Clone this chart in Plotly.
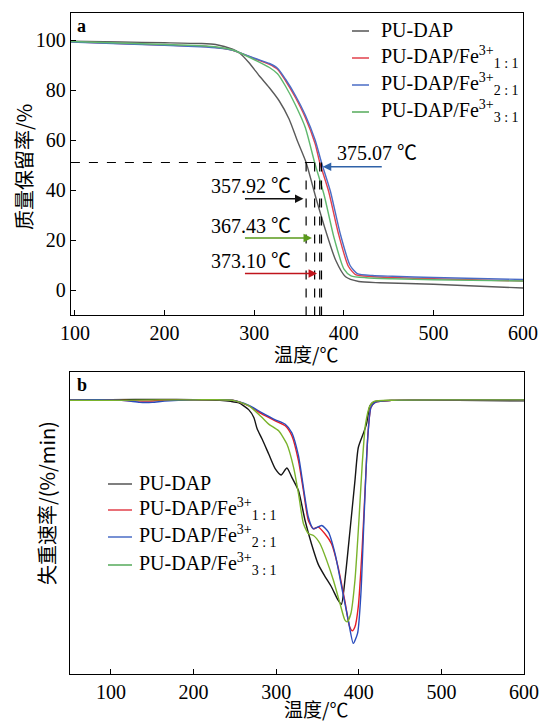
import plotly.graph_objects as go

# ---------------- data ----------------
series_names = [
    "PU-DAP",
    "PU-DAP/Fe<sup>3+</sup><sub>1 : 1</sub>",
    "PU-DAP/Fe<sup>3+</sup><sub>2 : 1</sub>",
    "PU-DAP/Fe<sup>3+</sup><sub>3 : 1</sub>",
]

# (a) TG: mass retention (%)
tg_temp_black = [95, 150, 200, 240, 257, 276, 283, 294, 305.6, 316.7, 327.8, 338.9, 348, 357.92, 368.5, 379.6, 390.8, 401.9, 416.7, 440, 500, 600]
tg_black = [99.5, 99.2, 98.9, 98.6, 98.2, 96.3, 95, 91, 85.7, 81, 75.7, 68.4, 59.8, 51, 37.3, 23.9, 12, 5.3, 3.4, 2.9, 2.3, 0.8]

tg_temp_red = [95, 150, 200, 240, 260, 276, 283, 302, 317, 326, 335, 346, 357, 368, 373.1, 383, 394, 405, 413, 430, 454, 500, 600]
tg_red = [99.3, 98.6, 98.0, 97.5, 96.9, 95.9, 95, 92.3, 90.3, 88.3, 83.7, 77, 69, 58.5, 51, 39.5, 22.5, 9.5, 6.2, 5.4, 5.0, 4.5, 3.6]

tg_temp_blue = [95, 150, 200, 240, 260, 276, 283, 302, 317, 326, 335, 346, 357, 368, 375.07, 385, 396, 407, 415, 432, 454, 500, 600]
tg_blue = [99.2, 98.5, 97.9, 97.3, 96.8, 95.9, 95, 92.5, 90.6, 88.7, 84.3, 77.8, 70, 60, 51, 39.5, 22.5, 9.8, 6.6, 5.8, 5.5, 5.0, 4.2]

tg_temp_green = [95, 150, 200, 240, 260, 276, 283, 302, 317, 326, 335, 346, 357, 367.43, 378, 389, 400, 408, 425, 454, 500, 600]
tg_green = [99.4, 98.8, 98.2, 97.7, 97.1, 96.0, 95, 91.8, 89, 86.5, 81.5, 74, 65, 51, 38, 21, 8.5, 5.7, 4.9, 4.5, 4.1, 3.6]

# 50 % loss temperatures
half_level = 51
half_temps = [357.92, 367.43, 373.10, 375.07]
half_labels = ["357.92 ℃", "367.43 ℃", "373.10 ℃", "375.07 ℃"]

# (b) DTG: mass-loss rate (%/min, relative)
dtg_temp_black = [50, 100, 160, 200, 232, 245, 255, 267, 273, 277, 283, 291, 299, 306, 313, 319, 327, 335, 343, 351, 359, 367, 375, 379, 384, 389.4, 395.4, 399.4, 405.4, 409.4, 413.5, 418, 440, 520, 600]
dtg_black = [0, 0.003, 0.005, 0.002, -0.005, -0.015, -0.03, -0.1, -0.177, -0.29, -0.393, -0.543, -0.693, -0.753, -0.683, -0.777, -0.91, -1.21, -1.45, -1.65, -1.77, -1.877, -2.01, -2.05, -1.75, -1.31, -0.81, -0.48, -0.34, -0.24, -0.06, -0.02, -0.005, -0.003, -0.01]

dtg_temp_red = [50, 100, 130, 145, 160, 200, 247, 267, 283, 299, 311, 319, 327, 333, 339, 345, 351, 359, 367, 375, 383, 389, 392.2, 395.4, 399.4, 404.2, 408.2, 411.4, 414.7, 419.5, 440, 520, 600]
dtg_red = [0, 0, -0.01, -0.012, -0.005, 0, -0.003, -0.06, -0.143, -0.21, -0.26, -0.36, -0.61, -0.91, -1.21, -1.293, -1.277, -1.343, -1.443, -1.677, -2.01, -2.277, -2.317, -2.277, -2.077, -1.477, -0.81, -0.31, -0.077, -0.027, -0.005, 0, 0]

dtg_temp_blue = [50, 100, 120, 135, 150, 165, 200, 247, 267, 283, 299, 311, 319, 327, 333, 339, 345, 355.2, 363.3, 371.3, 379.3, 387.3, 393.4, 398.6, 402.6, 406.6, 410.6, 414.7, 419.5, 440, 520, 600]
dtg_blue = [0, 0, -0.01, -0.025, -0.025, -0.012, 0, -0.003, -0.055, -0.13, -0.2, -0.245, -0.33, -0.56, -0.877, -1.177, -1.293, -1.26, -1.327, -1.543, -1.877, -2.21, -2.443, -2.34, -1.943, -1.143, -0.41, -0.077, -0.027, -0.005, 0, 0]

dtg_temp_green = [50, 100, 160, 200, 247, 267, 283, 291, 303, 313, 321.1, 327.1, 333.1, 339.2, 345.2, 353.2, 361.2, 369.3, 377.3, 383.3, 386.1, 390.5, 395.4, 400.2, 404.2, 408.2, 413.5, 418, 440, 520, 600]
dtg_green = [-0.005, -0.005, 0, 0, -0.003, -0.06, -0.177, -0.243, -0.31, -0.443, -0.677, -0.943, -1.243, -1.343, -1.36, -1.443, -1.61, -1.81, -2.043, -2.21, -2.227, -2.143, -1.81, -1.21, -0.643, -0.243, -0.06, -0.017, -0.003, 0, 0]

x_ticks = [100, 200, 300, 400, 500, 600]
tg_y_ticks = [0, 20, 40, 60, 80, 100]

# ---------------- style ----------------
SERIF = "Liberation Serif, Noto Sans CJK SC, serif"
CJK = "Noto Sans CJK SC, Liberation Serif, serif"
tg_colors = ["#5a5a5a", "#e2404b", "#4a6cc6", "#5fb86e"]
dtg_colors = ["#151515", "#e81c24", "#2a4cbc", "#7ab32c"]
legend_colors = ["#555555", "#e2404b", "#4a6cc6", "#55aa5a"]
arrow_colors = ["#111111", "#5a9a1c", "#c0141c", "#2f62a8"]

tg_x = [tg_temp_black, tg_temp_red, tg_temp_blue, tg_temp_green]
tg_y = [tg_black, tg_red, tg_blue, tg_green]
dtg_x = [dtg_temp_black, dtg_temp_red, dtg_temp_blue, dtg_temp_green]
dtg_y = [dtg_black, dtg_red, dtg_blue, dtg_green]

fig = go.Figure()
for i in range(4):
    fig.add_trace(go.Scatter(x=tg_x[i], y=tg_y[i], mode="lines", name=series_names[i],
                             line=dict(color=tg_colors[i], width=1.4, shape="spline", smoothing=0.6),
                             xaxis="x", yaxis="y", showlegend=False))
for i in range(4):
    fig.add_trace(go.Scatter(x=dtg_x[i], y=dtg_y[i], mode="lines", name=series_names[i],
                             line=dict(color=dtg_colors[i], width=1.4, shape="spline", smoothing=0.6),
                             xaxis="x2", yaxis="y2", showlegend=False))

XR_A = [95.5, 600]
YR_A = [-10, 110.8]
XR_B = [50.5, 600]
YR_B = [-2.75, 0.28]

axis_common = dict(showline=True, linecolor="black", linewidth=1.2, mirror=True,
                   ticklen=5, tickcolor="black", showgrid=False, zeroline=False,
                   tickfont=dict(family=SERIF, size=20, color="black"))

# the page body adds an 8 px offset; width/height/margins compensate for it
fig.update_layout(
    width=541, height=714,
    margin=dict(l=62, r=25, t=5, b=48),
    paper_bgcolor="white", plot_bgcolor="white",
    font=dict(family=SERIF, size=20, color="black"),
    xaxis=dict(domain=[0.002, 0.998], range=XR_A, tickvals=x_ticks, anchor="y", ticks="inside", **axis_common),
    yaxis=dict(domain=[0.5431, 1.0], range=YR_A, tickvals=tg_y_ticks, anchor="x", ticks="inside", **axis_common),
    xaxis2=dict(domain=[0, 1.0], range=XR_B, tickvals=x_ticks, anchor="y2", ticks="inside", **axis_common),
    yaxis2=dict(domain=[0, 0.4569], range=YR_B, anchor="x2", showticklabels=False, ticks="", **axis_common),
    showlegend=False,
)


def px_x(X):
    return (X - 70) / 454


def px_y(Y):
    return (674 - Y) / 661


shapes = []
shapes.append(dict(type="line", xref="x", yref="y", x0=XR_A[0], x1=max(half_temps),
                   y0=half_level, y1=half_level, line=dict(color="black", width=1.2, dash="dash")))
for t in half_temps:
    shapes.append(dict(type="line", xref="x", yref="y", x0=t, x1=t, y0=half_level, y1=YR_A[0],
                       line=dict(color="black", width=1.2, dash="dash")))

ann = []
# ---- manual legends (short line + label) ----
legend_a_rows = [31, 58, 85, 112]
legend_b_rows = [484, 510, 537, 565]
for i in range(4):
    ya = legend_a_rows[i]
    shapes.append(dict(type="line", xref="paper", yref="paper", x0=px_x(352), x1=px_x(369),
                       y0=px_y(ya), y1=px_y(ya), line=dict(color=legend_colors[i], width=1.5)))
    ann.append(dict(x=px_x(379), y=px_y(ya - 1), xref="paper", yref="paper", text=series_names[i],
                    showarrow=False, xanchor="left", yanchor="middle",
                    font=dict(family=SERIF, size=20, color="black")))
    yb = legend_b_rows[i]
    shapes.append(dict(type="line", xref="paper", yref="paper", x0=px_x(108), x1=px_x(132),
                       y0=px_y(yb), y1=px_y(yb), line=dict(color=legend_colors[i], width=1.5)))
    ann.append(dict(x=px_x(137), y=px_y(yb - 1), xref="paper", yref="paper", text=series_names[i],
                    showarrow=False, xanchor="left", yanchor="middle",
                    font=dict(family=SERIF, size=20, color="black")))
fig.update_layout(shapes=shapes)

left_arrow_y = [36.5, 20.8, 6.6]
left_label_y = [41.5, 25.5, 11.5]
for k in range(3):
    ann.append(dict(x=half_temps[k] - 3, y=left_arrow_y[k], xref="x", yref="y",
                    ax=288, ay=left_arrow_y[k], axref="x", ayref="y",
                    showarrow=True, arrowhead=2, arrowsize=1.3, arrowwidth=1.3,
                    arrowcolor=arrow_colors[k], text=""))
    ann.append(dict(x=296, y=left_label_y[k], xref="x", yref="y", text=half_labels[k],
                    showarrow=False, xanchor="center", yanchor="middle",
                    font=dict(family=SERIF, size=20, color="black")))
ann.append(dict(x=half_temps[3] + 1.5, y=49.3, xref="x", yref="y",
                ax=444, ay=49.3, axref="x", ayref="y",
                showarrow=True, arrowhead=2, arrowsize=1.3, arrowwidth=1.3,
                arrowcolor=arrow_colors[3], text=""))
ann.append(dict(x=437, y=55, xref="x", yref="y", text=half_labels[3],
                showarrow=False, xanchor="center", yanchor="middle",
                font=dict(family=SERIF, size=20, color="black")))

# panel letters
ann.append(dict(x=0.012, y=0.998, xref="paper", yref="paper", text="<b>a</b>", showarrow=False,
                xanchor="left", yanchor="top", font=dict(family=SERIF, size=18)))
ann.append(dict(x=0.012, y=0.455, xref="paper", yref="paper", text="<b>b</b>", showarrow=False,
                xanchor="left", yanchor="top", font=dict(family=SERIF, size=18)))

# axis titles
ann.append(dict(x=px_x(306), y=px_y(354), xref="paper", yref="paper", xanchor="center", yanchor="middle",
                text="温度/℃", showarrow=False, font=dict(family=CJK, size=19, color="black")))
ann.append(dict(x=px_x(316), y=px_y(708), xref="paper", yref="paper", xanchor="center", yanchor="middle",
                text="温度/℃", showarrow=False, font=dict(family=CJK, size=19, color="black")))
ann.append(dict(x=px_x(24), y=px_y(167), xref="paper", yref="paper", xanchor="center", yanchor="middle",
                text="质量保留率/%", textangle=-90, showarrow=False,
                font=dict(family=CJK, size=20, color="black")))
ann.append(dict(x=px_x(46), y=px_y(503), xref="paper", yref="paper", xanchor="center", yanchor="middle",
                text="失重速率/(%/min)", textangle=-90, showarrow=False,
                font=dict(family=CJK, size=20, color="black")))
fig.update_layout(annotations=ann)

fig.write_html("out.html")
